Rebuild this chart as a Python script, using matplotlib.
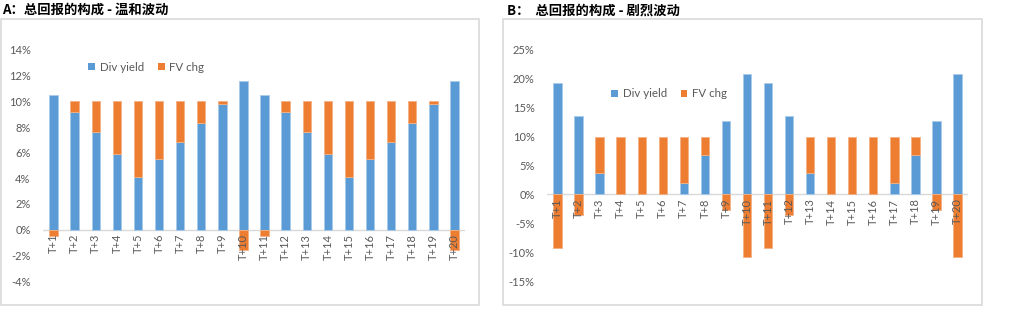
import matplotlib
matplotlib.use("Agg")
import matplotlib.pyplot as plt
import numpy as np
from matplotlib.patches import Rectangle, Patch

plt.rcParams['font.family'] = ['Lato', 'Noto Sans CJK SC', 'DejaVu Sans']

# Data (percent)
periods = ["T+%d" % i for i in range(1, 21)]

div_a = [10.5, 9.2, 7.6, 5.9, 4.1, 5.5, 6.8, 8.3, 9.8, 11.6,
         10.5, 9.2, 7.6, 5.9, 4.1, 5.5, 6.8, 8.3, 9.8, 11.6]
fv_a = [-0.5, 0.8, 2.4, 4.1, 5.9, 4.5, 3.2, 1.7, 0.2, -1.6,
        -0.5, 0.8, 2.4, 4.1, 5.9, 4.5, 3.2, 1.7, 0.2, -1.6]

div_b = [19.3, 13.6, 3.7, 0.0, 0.0, 0.0, 1.9, 6.8, 12.7, 20.8,
         19.3, 13.6, 3.7, 0.0, 0.0, 0.0, 1.9, 6.8, 12.7, 20.8]
fv_b = [-9.3, -3.6, 6.3, 10.0, 10.0, 10.0, 8.1, 3.2, -2.7, -10.8,
        -9.3, -3.6, 6.3, 10.0, 10.0, 10.0, 8.1, 3.2, -2.7, -10.8]

title_a = "A：总回报的构成 - 温和波动"
title_b = "B：  总回报的构成 - 剧烈波动"

BLUE = '#5B9BD5'
ORANGE = '#ED7D31'
GRAY_TXT = '#595959'
W, H = 1009, 324

fig = plt.figure(figsize=(W / 100, H / 100), dpi=100)


def px_axes(x0, x1, ytop, ybot):
    return fig.add_axes([x0 / W, (H - ybot) / H, (x1 - x0) / W, (ybot - ytop) / H])


def box(x0, x1, ytop, ybot):
    fig.patches.append(Rectangle((x0 / W, (H - ybot) / H), (x1 - x0) / W, (ybot - ytop) / H,
                                 transform=fig.transFigure, fill=False,
                                 edgecolor='#D9D9D9', linewidth=1.2))


def draw(ax, div, fv, ylim, step, leg_pos):
    x = np.arange(len(periods))
    div = np.array(div)
    fv = np.array(fv)
    ax.bar(x, div, width=0.4, color=BLUE, edgecolor='#A9CBEA', linewidth=0.6, zorder=2)
    bottom = np.where(fv >= 0, div, 0)
    ax.bar(x, fv, width=0.4, bottom=bottom, color=ORANGE, edgecolor='#F4B183',
           linewidth=0.6, zorder=2)
    ax.axhline(0, color='#D9D9D9', linewidth=1, zorder=1)
    ax.set_xlim(-0.5, len(periods) - 0.5)
    ax.set_ylim(*ylim)
    ticks = np.arange(ylim[0], ylim[1] + 0.01, step)
    ax.set_yticks(ticks)
    ax.set_yticklabels(["%d%%" % t for t in ticks], fontsize=8, color=GRAY_TXT)
    ax.tick_params(axis='y', length=0, pad=9)
    ax.set_xticks([])
    for s in ax.spines.values():
        s.set_visible(False)
    for i, lab in enumerate(periods):
        ax.annotate(lab, (i, 0), xytext=(0, -3), textcoords='offset points',
                    rotation=90, ha='center', va='top', fontsize=8,
                    color=GRAY_TXT, zorder=5)
    handles = [Patch(facecolor=BLUE, label='Div yield'),
               Patch(facecolor=ORANGE, label='FV chg')]
    ax.legend(handles=handles, loc='center', bbox_to_anchor=leg_pos, ncol=2,
              frameon=False, fontsize=8.3, handlelength=0.6, handleheight=0.6,
              handletextpad=0.4, columnspacing=1.2, labelcolor=GRAY_TXT)


box(1, 479, 19, 305)
box(503, 982, 19, 305)

ax_a = px_axes(43, 465, 50, 281)
draw(ax_a, div_a, fv_a, (-4, 14), 2, (0.245, 0.926))
ax_b = px_axes(547, 968, 50, 281)
draw(ax_b, div_b, fv_b, (-15, 25), 5, (0.29, 0.81))

fig.text(2 / W, 1 - 10 / H, title_a, fontsize=9.6, fontweight='bold',
         family=['Noto Sans CJK SC'], va='center', ha='left')
fig.text(507 / W, 1 - 11 / H, title_b, fontsize=9.6, fontweight='bold',
         family=['Noto Sans CJK SC'], va='center', ha='left')

fig.savefig('out.png', dpi=100, facecolor='white')
